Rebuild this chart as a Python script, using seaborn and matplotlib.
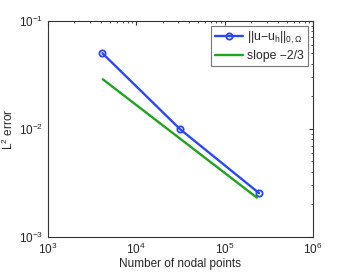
import matplotlib
matplotlib.use("Agg")
import matplotlib.pyplot as plt
import seaborn as sns
import pandas as pd

# values
nodes = [4150, 31400, 245000]
l2_error = [0.0500, 0.0099, 0.00254]
slope_x = [4190, 231000]
slope_y = [0.0287, 0.00231]

sns.set_style("white")
plt.rcParams['font.family'] = ['Liberation Sans', 'DejaVu Sans']
plt.rcParams['mathtext.default'] = 'regular'

err_df = pd.DataFrame({"nodes": nodes, "error": l2_error})
slope_df = pd.DataFrame({"nodes": slope_x, "error": slope_y})

fig = plt.figure(figsize=(3.46, 2.72), dpi=100)
ax = fig.add_axes([0.138, 0.129, 0.767, 0.795])

sns.lineplot(data=err_df, x="nodes", y="error", ax=ax, color="#2a48f5",
             linewidth=1.7, marker="o", markersize=4.5, markerfacecolor="none",
             markeredgecolor="#2a48f5", markeredgewidth=1.3,
             label="||u\u2212u$_h$||$_{0,\\Omega}$")
sns.lineplot(data=slope_df, x="nodes", y="error", ax=ax, color="#21a321",
             linewidth=1.7, label="slope \u22122/3")

ax.set_xscale("log")
ax.set_yscale("log")
ax.set_xlim(1e3, 1e6)
ax.set_ylim(1e-3, 1e-1)
ax.set_xlabel("Number of nodal points", fontsize=8.5, labelpad=1)
ax.set_ylabel(r"L$^2$ error", fontsize=8.5, labelpad=2)
ax.tick_params(which="both", direction="in", top=True, right=True,
               labelsize=8.5, color="#333333")
ax.tick_params(which="major", length=3)
ax.tick_params(which="minor", length=1.5)
for s in ax.spines.values():
    s.set_color("#333333")
    s.set_linewidth(0.8)

leg = ax.legend(loc="upper right", fontsize=8.8, frameon=True, fancybox=False,
                borderaxespad=0.45, handlelength=2.3, labelspacing=0.35,
                borderpad=0.3, handletextpad=0.35)
leg.get_frame().set_edgecolor("#555555")
leg.get_frame().set_linewidth(0.8)

fig.savefig("out.png", dpi=100)
